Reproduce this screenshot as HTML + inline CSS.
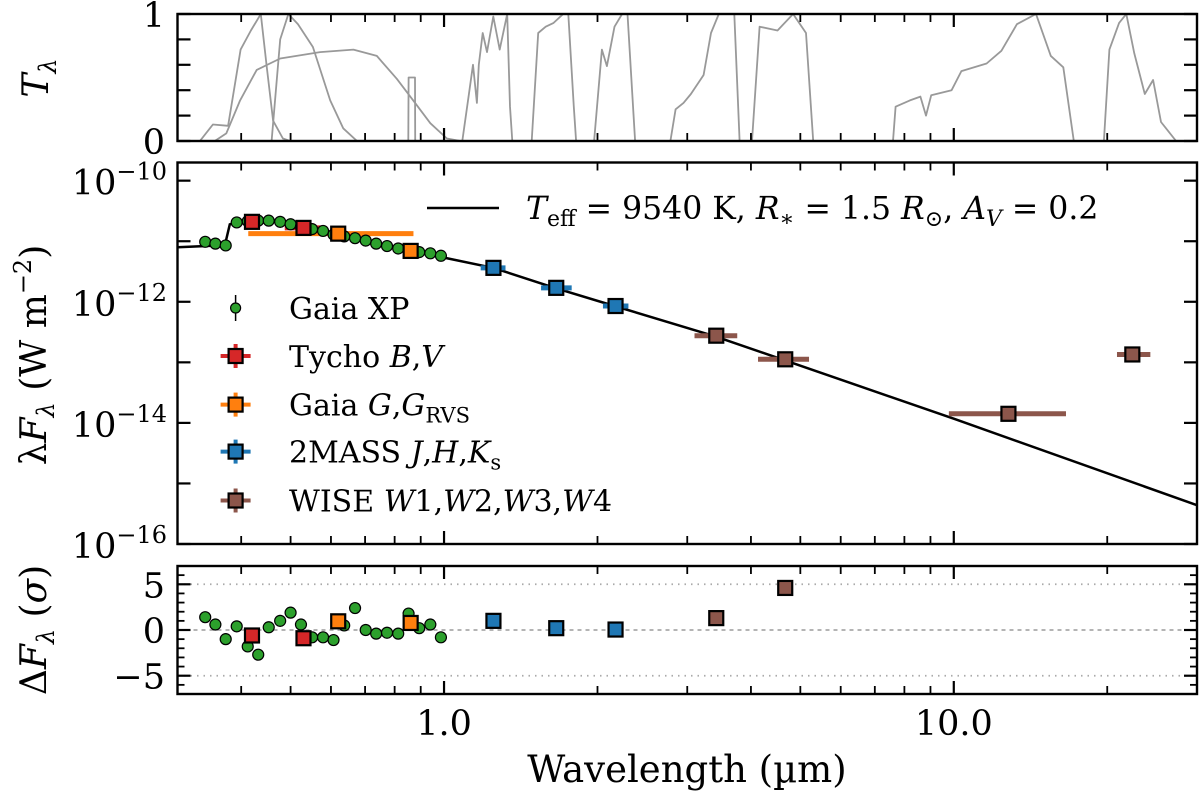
<!DOCTYPE html>
<html><head><meta charset="utf-8"><style>
html,body{margin:0;padding:0;background:#fff;}
svg{display:block;font-family:"DejaVu Serif","Liberation Serif",serif;}
</style></head><body>
<svg id="chart" width="1200" height="791" viewBox="0 0 1200 791" xmlns="http://www.w3.org/2000/svg">
<defs>
<clipPath id="cTop"><rect x="177.5" y="14" width="1019.5" height="127"/></clipPath>
<clipPath id="cMid"><rect x="177.5" y="162.5" width="1019.5" height="381.5"/></clipPath>
<clipPath id="cBot"><rect x="177.5" y="566" width="1019.5" height="128"/></clipPath>
</defs>
<g id="gTop"></g>
<g id="gMid"></g>
<g id="gBot"></g>
<g id="gAxes"></g>
</svg>
<script>
// ---------- data ----------
const xpWl = [0.340,0.356,0.373,0.392,0.412,0.432,0.453,0.477,0.500,0.524,0.551,0.579,0.607,0.637,0.669,0.702,0.736,0.773,0.813,0.852,0.894,0.940,0.986];
const xpLogF = [-11.01,-11.04,-11.07,-10.69,-10.67,-10.66,-10.66,-10.68,-10.72,-10.76,-10.80,-10.83,-10.89,-10.92,-10.95,-10.99,-11.04,-11.08,-11.12,-11.15,-11.18,-11.20,-11.24];
const xpResid = [1.4,0.6,-1.0,0.4,-1.8,-2.7,0.3,1.0,1.9,0.6,-0.8,-0.8,-1.1,0.5,2.4,0.0,-0.4,-0.3,-0.4,1.8,0.2,0.6,-0.8];

const photBands = ["B","V","G","RVS","J","H","Ks","W1","W2","W3","W4"];
const photWl = [0.42,0.53,0.62,0.86,1.25,1.66,2.17,3.42,4.67,12.8,22.4];
const photLo = [0.389,0.487,0.413,0.845,1.18,1.55,2.05,3.1,4.13,9.78,20.9];
const photHi = [0.44,0.585,0.871,0.875,1.32,1.78,2.3,3.76,5.2,16.6,24.3];
const photLogF = [-10.68,-10.78,-10.875,-11.16,-11.44,-11.77,-12.07,-12.56,-12.95,-13.85,-12.87];
const photResid = [-0.6,-0.9,0.95,0.77,1.0,0.2,0.05,1.3,4.6,null,null];
const photColor = ["#d62728","#d62728","#ff7f0e","#ff7f0e","#1f77b4","#1f77b4","#1f77b4","#8c564b","#8c564b","#8c564b","#8c564b"];

const modelWl = [0.3,0.36,0.372,0.38,0.39,0.45,0.5,0.6,0.7,0.8,0.9,1.0,1.25,1.65,2.16,3.4,4.6,10,30];
const modelLogF = [-11.10,-11.07,-11.05,-10.72,-10.69,-10.66,-10.71,-10.86,-10.99,-11.10,-11.19,-11.27,-11.44,-11.77,-12.07,-12.57,-12.95,-13.93,-15.36];

const filtB = [[0.332,0],[0.352,0.13],[0.377,0.12],[0.399,0.72],[0.418,0.87],[0.437,1],[0.449,0.58],[0.462,0.16],[0.483,0.02],[0.499,0]];
const filtV = [[0.459,0],[0.477,0.8],[0.495,1],[0.517,0.92],[0.553,0.74],[0.598,0.32],[0.634,0.1],[0.675,0]];
const filtG = [[0.355,0],[0.374,0.06],[0.398,0.32],[0.429,0.56],[0.477,0.65],[0.571,0.70],[0.664,0.72],[0.738,0.67],[0.808,0.49],[0.870,0.32],[0.940,0.14],[1.013,0.02],[1.076,0]];
const filtRVS = [[0.851,0],[0.852,0.5],[0.877,0.5],[0.878,0]];
const filtJ = [[1.086,0],[1.12,0.38],[1.14,0.6],[1.16,0.3],[1.17,0.6],[1.191,0.85],[1.214,0.70],[1.249,0.98],[1.286,0.72],[1.33,1],[1.347,0.27],[1.361,0]];
const filtH = [[1.486,0],[1.53,0.85],[1.583,0.9],[1.64,0.93],[1.713,1],[1.753,1],[1.797,0.27],[1.816,0]];
const filtKs = [[1.97,0],[2.04,0.72],[2.087,0.59],[2.16,0.9],[2.235,1],[2.29,1],[2.37,0]];
const filtW1 = [[2.78,0],[2.846,0.25],[2.95,0.3],[3.05,0.37],[3.23,0.52],[3.34,0.85],[3.46,1],[3.71,1],[3.8,0]];
const filtW2 = [[4.02,0],[4.16,0.9],[4.51,0.87],[4.84,1],[5.13,0.85],[5.3,0]];
const filtW3 = [[7.6,0],[7.69,0.27],[8.2,0.32],[8.6,0.35],[8.82,0.2],[9.03,0.36],[9.9,0.40],[10.35,0.55],[11.6,0.61],[12.4,0.71],[13.3,0.92],[14.5,1],[15.5,0.67],[16.4,0.58],[17.2,0]];
const filtW4 = [[19.7,0],[20.2,0.72],[21.1,0.93],[21.8,1],[22.6,0.69],[23.7,0.37],[24.6,0.48],[25.5,0.15],[27.3,0]];
const filters = [filtB,filtV,filtG,filtRVS,filtJ,filtH,filtKs,filtW1,filtW2,filtW3,filtW4];
const filterNames = ["tycho-b","tycho-v","gaia-g","gaia-rvs","2mass-j","2mass-h","2mass-ks","wise-w1","wise-w2","wise-w3","wise-w4"];

const xMajorTicks = [1,10];
const xMajorLabels = ["1.0","10.0"];
const xMinorTicks = [0.3,0.4,0.5,0.6,0.7,0.8,0.9,2,3,4,5,6,7,8,9,20,30];
const midDecades = [-10,-11,-12,-13,-14,-15,-16];
const midLabelDecades = [-10,-12,-14,-16];
const topTicks = [0,0.2,0.4,0.6,0.8,1];
const topLabels = [0,1];
const botMajor = [-5,0,5];
const botMinor = [-6,-4,-3,-2,-1,1,2,3,4,6];

// ---------- axes ----------
const L=177.5,R=1197;
const X = w => L + (Math.log10(w) - Math.log10(0.3))/2*(R-L);
const Yt = t => 141 - t*127;
const Ym = f => 162.5 + (-9.7 - f)/6.3*(544-162.5);
const Yb = r => 566 + (7 - r)/14*128;
const NS="http://www.w3.org/2000/svg";
function mk(tag, attrs, parent){const e=document.createElementNS(NS,tag);for(const k in attrs)e.setAttribute(k,attrs[k]);parent.appendChild(e);return e;}
const gTop=document.getElementById('gTop'),gMid=document.getElementById('gMid'),gBot=document.getElementById('gBot'),gA=document.getElementById('gAxes');

// top: filters
const topClip=mk('g',{'clip-path':'url(#cTop)'},gTop);
filters.forEach((f,i)=>{
  const p=mk('polyline',{points:f.map(q=>X(q[0]).toFixed(1)+','+Yt(q[1]).toFixed(1)).join(' '),fill:'none',stroke:'#999',"stroke-width":1.8,"stroke-linejoin":"round"},topClip);
  
  
});

// mid
const midClip=mk('g',{'clip-path':'url(#cMid)'},gMid);
const ml=mk('polyline',{points:modelWl.map((w,i)=>X(w).toFixed(1)+','+Ym(modelLogF[i]).toFixed(1)).join(' '),fill:'none',stroke:'#000',"stroke-width":2.5},midClip);


photWl.forEach((w,i)=>{
  const y=Ym(photLogF[i]);
  const eb=mk('line',{x1:X(photLo[i]),x2:X(photHi[i]),y1:y,y2:y,stroke:photColor[i],"stroke-width":5},midClip);
  
  
});
xpWl.forEach((w,i)=>{
  const c=mk('circle',{cx:X(w),cy:Ym(xpLogF[i]),r:5.5,fill:'#2ca02c',stroke:'#000',"stroke-width":1.2},midClip);
  
  
});
photWl.forEach((w,i)=>{
  const s=mk('rect',{x:X(w)-7,y:Ym(photLogF[i])-7,width:14,height:14,fill:photColor[i],stroke:'#000',"stroke-width":2.2},midClip);
  
  
});

// bottom
const botClip=mk('g',{'clip-path':'url(#cBot)'},gBot);
[5,-5].forEach(v=>{const l=mk('line',{x1:L,x2:R,y1:Yb(v),y2:Yb(v),stroke:'#aaa',"stroke-width":1.8,"stroke-dasharray":"1.5,5"},botClip);
  
  });
const zl=mk('line',{x1:L,x2:R,y1:Yb(0),y2:Yb(0),stroke:'#aaa',"stroke-width":1.8,"stroke-dasharray":"4,4"},botClip);


xpWl.forEach((w,i)=>{
  const c=mk('circle',{cx:X(w),cy:Yb(xpResid[i]),r:5.5,fill:'#2ca02c',stroke:'#000',"stroke-width":1.2},botClip);
  
  
});
photWl.forEach((w,i)=>{
  if(photResid[i]===null)return;
  const s=mk('rect',{x:X(w)-7,y:Yb(photResid[i])-7,width:14,height:14,fill:photColor[i],stroke:'#000',"stroke-width":2.2},botClip);
  
  
});

// frames & ticks
const panels=[[14,141],[162.5,544],[566,694]];
panels.forEach(([t,b],pi)=>{
  const fr=mk('rect',{x:L,y:t,width:R-L,height:b-t,fill:'none',stroke:'#000',"stroke-width":2.4},gA);
  
  
  xMajorTicks.forEach(v=>{const x=X(v);mk('line',{x1:x,x2:x,y1:t,y2:t+13,stroke:'#000',"stroke-width":2.2},gA);mk('line',{x1:x,x2:x,y1:b,y2:b-13,stroke:'#000',"stroke-width":2.2},gA);});
  xMinorTicks.forEach(v=>{const x=X(v);mk('line',{x1:x,x2:x,y1:t,y2:t+8,stroke:'#000',"stroke-width":1.8},gA);mk('line',{x1:x,x2:x,y1:b,y2:b-8,stroke:'#000',"stroke-width":1.8},gA);});
});
function ytick(y,len,w){mk('line',{x1:L,x2:L+len,y1:y,y2:y,stroke:'#000',"stroke-width":w},gA);mk('line',{x1:R,x2:R-len,y1:y,y2:y,stroke:'#000',"stroke-width":w},gA);}
topTicks.forEach(v=>ytick(Yt(v),13,2.2));
midDecades.forEach(v=>ytick(Ym(v),13,2.2));
botMajor.forEach(v=>ytick(Yb(v),13,2.2));
botMinor.forEach(v=>ytick(Yb(v),7,1.8));

function txt(s,attrs,name,parent){const e=mk('text',attrs,parent||gA);e.innerHTML=s;return e;}
xMajorTicks.forEach((v,i)=>txt(xMajorLabels[i],{x:X(v),y:735,"font-size":35,"text-anchor":"middle"},'x-tick-label'));
topLabels.forEach(v=>txt(String(v),{x:165,y:Yt(v)+13,"font-size":35,"text-anchor":"end"},'top-y-tick-label'));
midLabelDecades.forEach(v=>txt('10<tspan dy="-15" font-size="24">−'+(-v)+'</tspan>',{x:167,y:Ym(v)+14,"font-size":35,"text-anchor":"end"},'mid-y-tick-label'));
botMajor.forEach(v=>txt(v<0?'−'+(-v):String(v),{x:165,y:Yb(v)+13,"font-size":35,"text-anchor":"end"},'bottom-y-tick-label'));

txt('Wavelength (µm)',{x:687,y:782,"font-size":37,"text-anchor":"middle"},'x-axis-title');
txt('<tspan font-style="italic">T</tspan><tspan font-style="italic" font-size="24" dy="8">λ</tspan>',{x:0,y:0,"font-size":36,"text-anchor":"middle",transform:"translate(48,78) rotate(-90)"},'top-y-axis-title');
txt('λ<tspan font-style="italic">F</tspan><tspan font-style="italic" font-size="24" dy="8">λ</tspan><tspan dy="-8"> (W m</tspan><tspan font-size="24" dy="-15">−2</tspan><tspan dy="15">)</tspan>',{x:0,y:0,"font-size":36,"text-anchor":"middle",transform:"translate(46,355) rotate(-90)"},'mid-y-axis-title');
txt('Δ<tspan font-style="italic">F</tspan><tspan font-style="italic" font-size="24" dy="8">λ</tspan><tspan dy="-8"> (</tspan><tspan font-style="italic">σ</tspan>)',{x:0,y:0,"font-size":36,"text-anchor":"middle",transform:"translate(46,630) rotate(-90)"},'bottom-y-axis-title');

// legend
const lg=mk('g',{},gA);


const ll=mk('line',{x1:427,x2:499,y1:208,y2:208,stroke:'#000',"stroke-width":2.5},lg);


txt('<tspan font-style="italic">T</tspan><tspan font-size="22" dy="7">eff</tspan><tspan dy="-7"> = 9540 K, </tspan><tspan font-style="italic">R</tspan><tspan font-size="22" dy="7">∗</tspan><tspan dy="-7"> = 1.5 </tspan><tspan font-style="italic">R</tspan><tspan font-size="22" dy="7">⊙</tspan><tspan dy="-7">, </tspan><tspan font-style="italic">A</tspan><tspan font-style="italic" font-size="22" dy="7">V</tspan><tspan dy="-7"> = 0.2</tspan>',{x:526,y:219,"font-size":31.5},'legend-model-label',lg);
const legY=[308,356,404.6,451.6,500.5];
const legCol=[null,"#d62728","#ff7f0e","#1f77b4","#8c564b"];
const legText=['Gaia XP','Tycho <tspan font-style="italic">B</tspan>,<tspan font-style="italic">V</tspan>','Gaia <tspan font-style="italic">G</tspan>,<tspan font-style="italic">G</tspan><tspan font-size="21" dy="7">RVS</tspan>','2MASS <tspan font-style="italic">J</tspan>,<tspan font-style="italic">H</tspan>,<tspan font-style="italic">K</tspan><tspan font-size="21" dy="7">s</tspan>','WISE <tspan font-style="italic">W</tspan>1,<tspan font-style="italic">W</tspan>2,<tspan font-style="italic">W</tspan>3,<tspan font-style="italic">W</tspan>4'];
legY.forEach((y,i)=>{
  const mx=235.6;
  if(i===0){mk('line',{x1:mx,x2:mx,y1:y-13,y2:y+13,stroke:'#000',"stroke-width":1.5},lg);mk('circle',{cx:mx,cy:y,r:5,fill:'#2ca02c',stroke:'#000',"stroke-width":1.2},lg);}
  else{mk('line',{x1:mx-15,x2:mx+15,y1:y,y2:y,stroke:legCol[i],"stroke-width":4},lg);mk('line',{x1:mx,x2:mx,y1:y-12,y2:y+12,stroke:legCol[i],"stroke-width":4},lg);
    mk('rect',{x:mx-7,y:y-7,width:14,height:14,fill:legCol[i],stroke:'#000',"stroke-width":2.2},lg);}
  txt(legText[i],{x:289,y:y+11,"font-size":30},'legend-entry',lg);
});
</script>
</body></html>
